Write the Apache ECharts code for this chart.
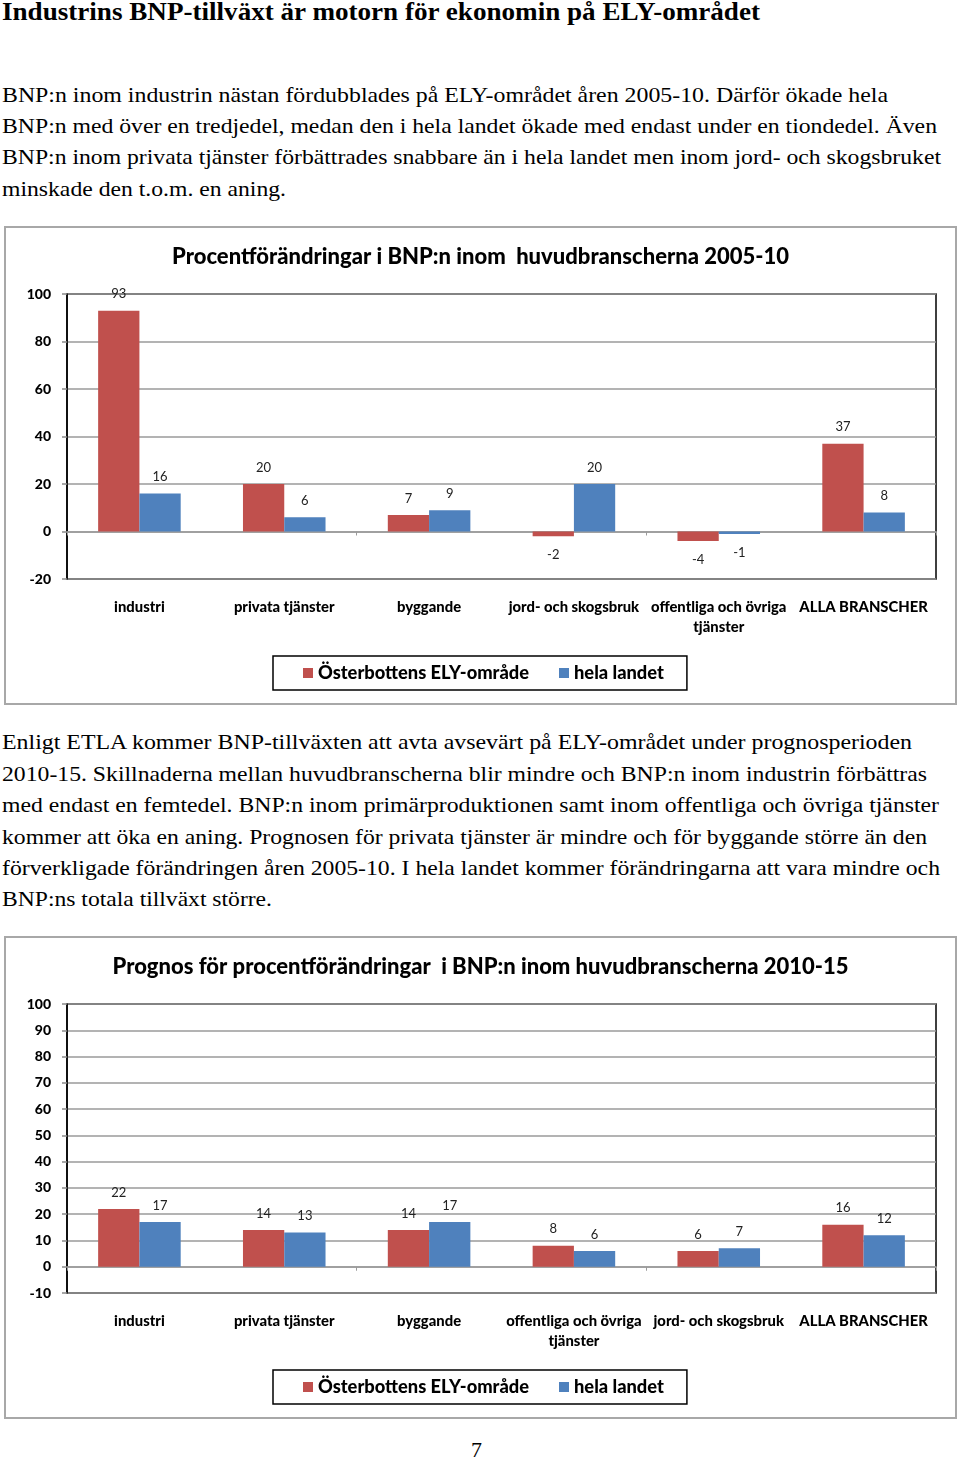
<!DOCTYPE html>
<html><head><meta charset="utf-8">
<script src="https://cdn.jsdelivr.net/npm/echarts@6/dist/echarts.min.js"></script>
<style>
body{margin:0;width:960px;height:1461px;background:#fff;position:relative;overflow:hidden;}
.t{position:absolute;left:2px;white-space:nowrap;font-family:"Liberation Serif","Times New Roman",serif;font-size:22px;line-height:30px;color:#000;transform-origin:0 50%;}
.h{position:absolute;left:2px;top:-3px;white-space:nowrap;font-family:"Liberation Serif",serif;font-weight:bold;font-size:25px;line-height:30px;color:#000;transform-origin:0 50%;}
.box{position:absolute;border:2px solid #a8a8a8;box-sizing:border-box;}
.ch{position:absolute;}
</style></head>
<body>
<div class="h" data-w="758">Industrins BNP-tillväxt är motorn för ekonomin på ELY-området</div>

<div class="t" style="top:80px" data-w="886">BNP:n inom industrin nästan fördubblades på ELY-området åren 2005-10. Därför ökade hela</div>
<div class="t" style="top:111px" data-w="935">BNP:n med över en tredjedel, medan den i hela landet ökade med endast under en tiondedel. Även</div>
<div class="t" style="top:142px" data-w="939">BNP:n inom privata tjänster förbättrades snabbare än i hela landet men inom jord- och skogsbruket</div>
<div class="t" style="top:174px" data-w="284">minskade den t.o.m. en aning.</div>

<div class="box" style="left:4px;top:226px;width:953px;height:479px"></div>
<div class="ch" id="c1" style="left:4px;top:226px;width:953px;height:479px"></div>

<div class="t" style="top:727px" data-w="910">Enligt ETLA kommer BNP-tillväxten att avta avsevärt på ELY-området under prognosperioden</div>
<div class="t" style="top:759px" data-w="925">2010-15. Skillnaderna mellan huvudbranscherna blir mindre och BNP:n inom industrin förbättras</div>
<div class="t" style="top:790px" data-w="937">med endast en femtedel. BNP:n inom primärproduktionen samt inom offentliga och övriga tjänster</div>
<div class="t" style="top:822px" data-w="925">kommer att öka en aning. Prognosen för privata tjänster är mindre och för byggande större än den</div>
<div class="t" style="top:853px" data-w="938">förverkligade förändringen åren 2005-10. I hela landet kommer förändringarna att vara mindre och</div>
<div class="t" style="top:884px" data-w="270">BNP:ns totala tillväxt större.</div>

<div class="box" style="left:4px;top:936px;width:953px;height:483px"></div>
<div class="ch" id="c2" style="left:4px;top:936px;width:953px;height:483px"></div>

<div class="t" style="top:1435px;left:471px">7</div>

<script>
// fit text lines to reference widths
document.querySelectorAll('[data-w]').forEach(function(el){
  var w = el.getBoundingClientRect().width;
  var target = parseFloat(el.getAttribute('data-w'));
  el.style.transform = 'scaleX(' + (target / w) + ')';
});

// ---- Data ----
var seriesNames = ['Österbottens ELY-område', 'hela landet'];

var title1 = 'Procentförändringar i BNP:n inom  huvudbranscherna 2005-10';
var categories1 = ['industri', 'privata tjänster', 'byggande', 'jord- och skogsbruk', 'offentliga och övriga tjänster', 'ALLA BRANSCHER'];
var regional1 = [93, 20, 7, -2, -4, 37];
var national1 = [16, 6, 9, 20, -1, 8];
var yTicks1 = {min: -20, max: 100, interval: 20};

var title2 = 'Prognos för procentförändringar  i BNP:n inom huvudbranscherna 2010-15';
var categories2 = ['industri', 'privata tjänster', 'byggande', 'offentliga och övriga tjänster', 'jord- och skogsbruk', 'ALLA BRANSCHER'];
var regional2 = [22, 14, 14, 8, 6, 16];
var national2 = [17, 13, 17, 6, 7, 12];
var yTicks2 = {min: -10, max: 100, interval: 10};

var RED = '#C0504D', BLUE = '#4F81BD';
var FONT = 'Lato, "Open Sans", sans-serif';
var BOLD = 900;

function withLabels(values) {
  return values.map(function(v){
    return {value: v, label: {position: v < 0 ? 'bottom' : 'top', distance: v < 0 ? 12 : 10}};
  });
}

function makeOption(title, cats, red, blue, ticks, legendTop) {
  var label = {show: true, fontFamily: FONT, fontSize: 13, color: '#222'};
  return {
    animation: false,
    textStyle: {fontFamily: FONT},
    title: {text: title, left: 'center', top: 20, padding: 0,
      textStyle: {fontFamily: FONT, fontSize: 22, fontWeight: BOLD, color: '#000'}},
    legend: {
      data: seriesNames, left: 269, top: legendTop, orient: 'horizontal',
      icon: 'rect', itemWidth: 10, itemHeight: 10, itemGap: 30,
      padding: [8, 23, 8, 30], borderColor: '#000', borderWidth: 1.5,
      textStyle: {fontFamily: FONT, fontSize: 18.3, fontWeight: BOLD, color: '#000'}
    },
    grid: {left: 63, right: 21, top: 68, bottom: 126, show: true, borderColor: '#000', borderWidth: 1.5, backgroundColor: 'transparent'},
    xAxis: [{
      type: 'category', data: cats, position: 'bottom',
      axisLine: {show: false, onZero: false},
      axisTick: {show: false},
      axisLabel: {interval: 0, margin: 18, fontFamily: FONT, fontSize: 14.8, fontWeight: BOLD, color: '#000', lineHeight: 20,
        formatter: function(v){ return v.replace('övriga ', 'övriga\n'); }}
    }, {
      type: 'category', data: cats, position: 'bottom',
      axisLine: {show: true, onZero: true, lineStyle: {color: '#9a9a9a', width: 1.5}},
      axisTick: {show: true, length: 4, inside: false, lineStyle: {color: '#9a9a9a'}},
      axisLabel: {show: false}
    }],
    yAxis: {
      type: 'value', min: ticks.min, max: ticks.max, interval: ticks.interval,
      axisLine: {show: true, lineStyle: {color: '#000', width: 1.5}},
      axisTick: {show: true, length: 5, lineStyle: {color: '#8a8a8a', width: 1.5}},
      splitLine: {show: true, lineStyle: {color: '#9a9a9a', width: 1.5}},
      axisLabel: {margin: 16, fontFamily: FONT, fontSize: 14, fontWeight: BOLD, color: '#000'}
    },
    series: [
      {name: seriesNames[0], type: 'bar', data: withLabels(red), barGap: '0%', barCategoryGap: '43%',
        itemStyle: {color: RED}, label: label},
      {name: seriesNames[1], type: 'bar', data: withLabels(blue), barGap: '0%', barCategoryGap: '43%',
        itemStyle: {color: BLUE}, label: label}
    ]
  };
}

var c1 = echarts.init(document.getElementById('c1'));
c1.setOption(makeOption(title1, categories1, regional1, national1, yTicks1, 430));
var c2 = echarts.init(document.getElementById('c2'));
c2.setOption(makeOption(title2, categories2, regional2, national2, yTicks2, 434));
</script>
</body></html>
